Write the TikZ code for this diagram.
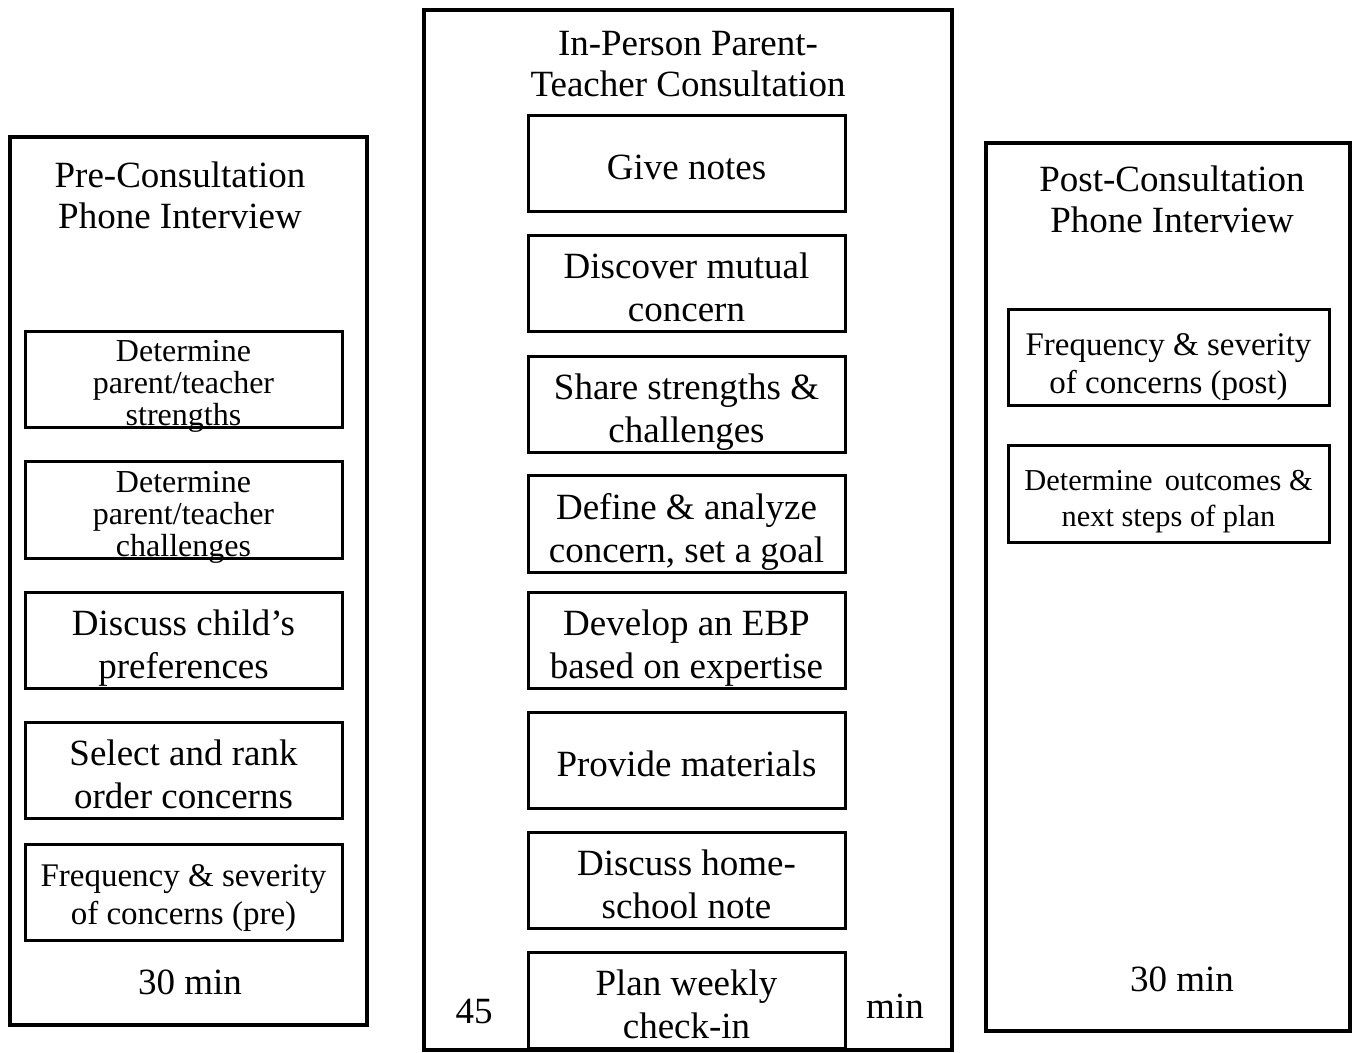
\documentclass[tikz,border=0pt]{standalone}
\usepackage{fontspec}
\setmainfont{Liberation Serif}

\begin{document}
\begin{tikzpicture}[x=0.5pt,y=-0.5pt,
    phase/.style={line width=2pt},
    stepbox/.style={draw,line width=1.5pt,minimum width=158.5pt,minimum height=48pt,
        inner xsep=2pt,inner ysep=0pt,align=center,text depth=2pt,
        font=\fontsize{18.5}{21.5}\selectfont},
    smalltext/.style={text height=46pt,text depth=0pt,font=\fontsize{16}{16}\selectfont},
    midtext/.style={font=\fontsize{16.5}{19}\selectfont},
    heading/.style={align=center,font=\fontsize{18.5}{20.5}\selectfont}]
    \useasboundingbox (0,0) rectangle (1355,1053);
    % the three phases
    \draw[phase] (10,137) rectangle (367,1025);
    \draw[phase] (424,10) rectangle (952,1050);
    \draw[phase] (986,143) rectangle (1350,1031);
    \node[heading] (pretitle) at (180,195) {Pre-Consultation\\Phone Interview};
    \node[heading] (midtitle) at (688,64) {In-Person Parent-\\Teacher Consultation};
    \node[heading] (posttitle) at (1172,199) {Post-Consultation\\Phone Interview};
    % pre-consultation
    \node[stepbox,smalltext] (p1) at (183.5,380) {Determine\\parent/teacher\\strengths};
    \node[stepbox,smalltext] (p2) at (183.5,510) {Determine\\parent/teacher\\challenges};
    \node[stepbox,text height=40pt] (p3) at (183.5,640) {Discuss child's\\preferences};
    \node[stepbox,text height=40pt] (p4) at (183.5,770) {Select and rank\\order concerns};
    \node[stepbox,midtext,text height=34pt] (p5) at (183.5,892) {Frequency \& severity\\of concerns (pre)};
    \node[heading] (pretime) at (190,982) {30 min};
    % consultation
    \foreach \t/\h/\n [count=\i from 1] in {
        164/18pt/{Give notes},
        284/40pt/{Discover mutual\\concern},
        405/40pt/{Share strengths \&\\challenges},
        524/40pt/{Define \& analyze\\concern, set a goal},
        640/40pt/{Develop an EBP\\based on expertise},
        760/18pt/{Provide materials},
        880/40pt/{Discuss home-\\school note},
        1000/40pt/{Plan weekly\\check-in}}
        \node[stepbox,text height=\h] (m\i) at (686.5,\t) {\n};
    \node[heading] (midtime) at (474,1011) {45};
    \node[heading] (midunit) at (895,1006) {min};
    % post-consultation
    \node[stepbox,midtext,text height=38pt,minimum width=160.5pt] (q1) at (1168.5,358) {Frequency \& severity\\of concerns (post)};
    \node[stepbox,midtext,text height=35pt,minimum width=160.5pt,font=\fontsize{15.2}{18}\selectfont] (q2) at (1168.5,494) {Determine\hspace{0.4em}outcomes \&\\next steps of plan};
    \node[heading] (posttime) at (1182,979) {30 min};
\end{tikzpicture}
\end{document}
